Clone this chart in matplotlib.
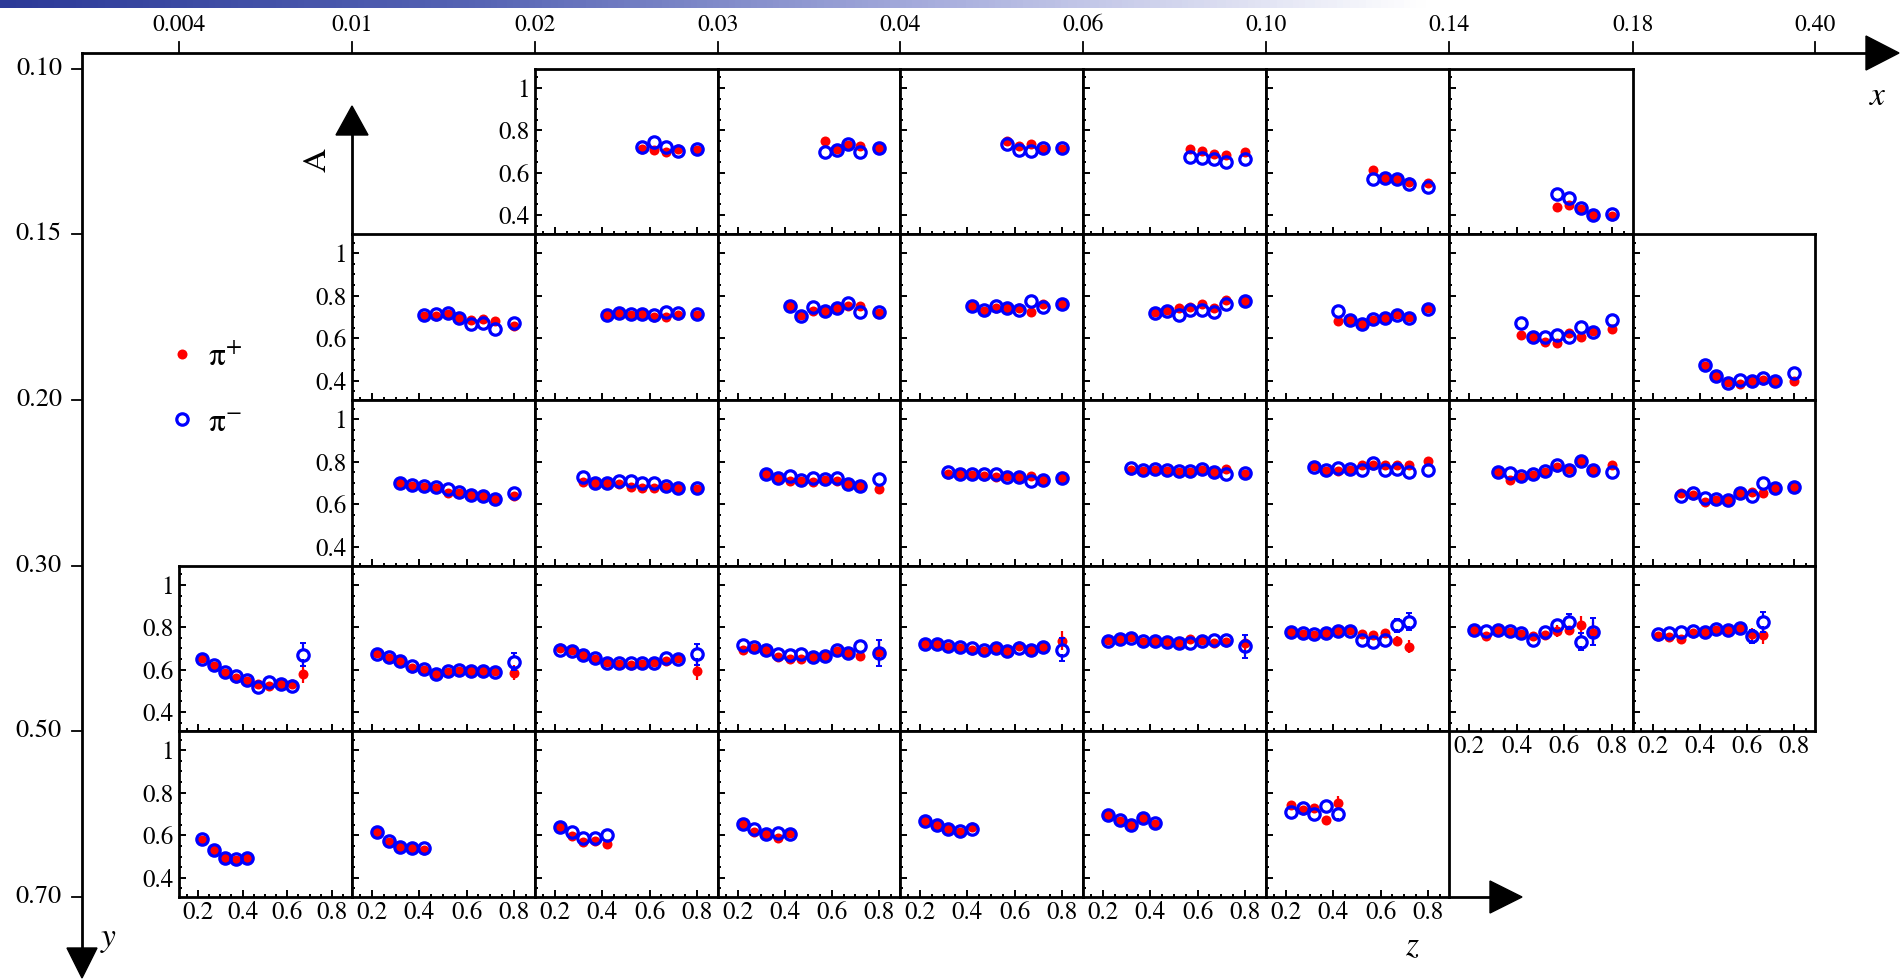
import numpy as np
import matplotlib
matplotlib.use('Agg')
import matplotlib.pyplot as plt
from matplotlib.patches import Polygon
from matplotlib.colors import LinearSegmentedColormap
from matplotlib.ticker import FixedLocator, MultipleLocator

plt.rcParams['font.family'] = 'STIXGeneral'
plt.rcParams['mathtext.fontset'] = 'stix'

W, H = 1901, 980

## bin edges written on the outer x and y axes
x_edge_labels = ['0.004', '0.01', '0.02', '0.03', '0.04', '0.06', '0.10', '0.14', '0.18', '0.40']
y_edge_labels = ['0.10', '0.15', '0.20', '0.30', '0.50', '0.70']

## z points used in the panels
z_r1 = [0.57, 0.62, 0.67, 0.72, 0.80]
z_r2 = [0.42, 0.47, 0.52, 0.57, 0.62, 0.67, 0.72, 0.80]
z_r3 = [0.32, 0.37, 0.42, 0.47, 0.52, 0.57, 0.62, 0.67, 0.72, 0.80]
z_12 = [0.22, 0.27, 0.32, 0.37, 0.42, 0.47, 0.52, 0.57, 0.62, 0.67, 0.72, 0.80]
z_11 = [0.22, 0.27, 0.32, 0.37, 0.42, 0.47, 0.52, 0.57, 0.62, 0.67, 0.72]
z_10 = [0.22, 0.27, 0.32, 0.37, 0.42, 0.47, 0.52, 0.57, 0.62, 0.67]
z_r5 = [0.22, 0.27, 0.32, 0.37, 0.42]

## y bin 1 (0.10-0.15)
pip_y1_x3 = [0.714, 0.706, 0.698, 0.714, 0.708]
pim_y1_x3 = [0.722, 0.746, 0.722, 0.703, 0.711]
pip_y1_x4 = [0.748, 0.711, 0.730, 0.727, 0.717]
pim_y1_x4 = [0.698, 0.708, 0.735, 0.698, 0.716]
pip_y1_x5 = [0.751, 0.727, 0.735, 0.714, 0.714]
pim_y1_x5 = [0.735, 0.706, 0.703, 0.716, 0.717]
pip_y1_x6 = [0.714, 0.703, 0.687, 0.683, 0.698]
pim_y1_x6 = [0.676, 0.671, 0.663, 0.652, 0.663]
pip_y1_x7 = [0.613, 0.576, 0.568, 0.557, 0.552]
pim_y1_x7 = [0.568, 0.576, 0.571, 0.544, 0.532]
pip_y1_x8 = [0.438, 0.446, 0.430, 0.398, 0.394]
pim_y1_x8 = [0.497, 0.478, 0.433, 0.398, 0.406]

## y bin 2 (0.15-0.20)
pip_y2_x2 = [0.706, 0.703, 0.716, 0.695, 0.687, 0.692, 0.679, 0.660]
pim_y2_x2 = [0.708, 0.714, 0.719, 0.695, 0.668, 0.671, 0.643, 0.671]
pip_y2_x3 = [0.708, 0.717, 0.711, 0.714, 0.702, 0.698, 0.711, 0.711]
pim_y2_x3 = [0.711, 0.721, 0.714, 0.714, 0.711, 0.724, 0.717, 0.714]
pip_y2_x4 = [0.751, 0.708, 0.730, 0.730, 0.743, 0.751, 0.751, 0.719]
pim_y2_x4 = [0.754, 0.703, 0.746, 0.730, 0.740, 0.767, 0.724, 0.724]
pip_y2_x5 = [0.751, 0.730, 0.740, 0.743, 0.740, 0.724, 0.762, 0.759]
pim_y2_x5 = [0.751, 0.735, 0.751, 0.743, 0.735, 0.775, 0.746, 0.759]
pip_y2_x6 = [0.724, 0.735, 0.743, 0.746, 0.759, 0.743, 0.778, 0.775]
pim_y2_x6 = [0.719, 0.727, 0.711, 0.735, 0.735, 0.724, 0.763, 0.775]
pip_y2_x7 = [0.683, 0.687, 0.668, 0.684, 0.695, 0.714, 0.698, 0.743]
pim_y2_x7 = [0.727, 0.687, 0.668, 0.692, 0.695, 0.708, 0.695, 0.738]
pip_y2_x8 = [0.616, 0.608, 0.581, 0.576, 0.627, 0.605, 0.635, 0.643]
pim_y2_x8 = [0.671, 0.608, 0.605, 0.616, 0.608, 0.652, 0.629, 0.684]
pip_y2_x9 = [0.468, 0.422, 0.394, 0.383, 0.397, 0.405, 0.398, 0.398]
pim_y2_x9 = [0.473, 0.425, 0.390, 0.406, 0.397, 0.414, 0.397, 0.438]

## y bin 3 (0.20-0.30)
pip_y3_x2 = [0.698, 0.687, 0.683, 0.675, 0.651, 0.654, 0.643, 0.640, 0.627, 0.638]
pim_y3_x2 = [0.698, 0.690, 0.686, 0.679, 0.671, 0.659, 0.643, 0.640, 0.627, 0.651]
pip_y3_x3 = [0.706, 0.698, 0.698, 0.694, 0.683, 0.678, 0.675, 0.679, 0.675, 0.671]
pim_y3_x3 = [0.730, 0.698, 0.698, 0.710, 0.710, 0.698, 0.702, 0.687, 0.678, 0.675]
pip_y3_x4 = [0.743, 0.722, 0.710, 0.710, 0.706, 0.714, 0.710, 0.694, 0.687, 0.670]
pim_y3_x4 = [0.743, 0.725, 0.733, 0.714, 0.725, 0.719, 0.722, 0.694, 0.687, 0.717]
pip_y3_x5 = [0.743, 0.741, 0.738, 0.733, 0.730, 0.733, 0.727, 0.735, 0.714, 0.722]
pim_y3_x5 = [0.751, 0.741, 0.741, 0.741, 0.741, 0.730, 0.730, 0.710, 0.714, 0.725]
pip_y3_x6 = [0.762, 0.757, 0.762, 0.757, 0.754, 0.754, 0.762, 0.751, 0.765, 0.743]
pim_y3_x6 = [0.770, 0.759, 0.765, 0.762, 0.757, 0.757, 0.767, 0.751, 0.743, 0.746]
pip_y3_x7 = [0.778, 0.757, 0.757, 0.762, 0.786, 0.783, 0.786, 0.786, 0.783, 0.802]
pim_y3_x7 = [0.773, 0.762, 0.770, 0.767, 0.762, 0.794, 0.762, 0.767, 0.751, 0.759]
pip_y3_x8 = [0.751, 0.714, 0.730, 0.738, 0.754, 0.773, 0.767, 0.802, 0.762, 0.786]
pim_y3_x8 = [0.754, 0.746, 0.733, 0.741, 0.757, 0.783, 0.759, 0.805, 0.762, 0.754]
pip_y3_x9 = [0.651, 0.643, 0.611, 0.619, 0.619, 0.651, 0.659, 0.651, 0.675, 0.683]
pim_y3_x9 = [0.640, 0.651, 0.630, 0.624, 0.619, 0.651, 0.640, 0.698, 0.675, 0.683]

## y bin 4 (0.30-0.50), with the visible error bars
pip_y4_x1 = [0.657, 0.616, 0.586, 0.562, 0.547, 0.531, 0.521, 0.534, 0.531, 0.581]
pim_y4_x1 = [0.652, 0.621, 0.589, 0.570, 0.550, 0.518, 0.542, 0.534, 0.523, 0.671]
epip_y4_x1 = [0.008, 0.008, 0.008, 0.008, 0.008, 0.009, 0.01, 0.01, 0.012, 0.046]
epim_y4_x1 = [0.008, 0.008, 0.008, 0.008, 0.008, 0.009, 0.01, 0.01, 0.012, 0.054]
pip_y4_x2 = [0.679, 0.657, 0.641, 0.610, 0.597, 0.581, 0.589, 0.594, 0.592, 0.592, 0.592, 0.585]
pim_y4_x2 = [0.676, 0.660, 0.641, 0.616, 0.602, 0.581, 0.594, 0.597, 0.594, 0.594, 0.589, 0.637]
epip_y4_x2 = [0.008] * 11 + [0.035]
epim_y4_x2 = [0.008] * 11 + [0.040]
pip_y4_x3 = [0.700, 0.692, 0.668, 0.652, 0.637, 0.626, 0.621, 0.629, 0.637, 0.642, 0.657, 0.594]
pim_y4_x3 = [0.695, 0.689, 0.668, 0.656, 0.633, 0.633, 0.632, 0.633, 0.633, 0.657, 0.649, 0.673]
epip_y4_x3 = [0.008] * 10 + [0.012, 0.045]
epim_y4_x3 = [0.008] * 10 + [0.012, 0.050]
pip_y4_x4 = [0.695, 0.700, 0.692, 0.660, 0.652, 0.648, 0.660, 0.665, 0.689, 0.681, 0.665, 0.684]
pim_y4_x4 = [0.716, 0.708, 0.692, 0.676, 0.668, 0.676, 0.660, 0.665, 0.692, 0.679, 0.711, 0.679]
epip_y4_x4 = [0.008] * 10 + [0.014, 0.050]
epim_y4_x4 = [0.008] * 10 + [0.014, 0.060]
pip_y4_x5 = [0.723, 0.723, 0.708, 0.700, 0.695, 0.689, 0.700, 0.689, 0.711, 0.692, 0.705, 0.736]
pim_y4_x5 = [0.720, 0.723, 0.711, 0.705, 0.700, 0.692, 0.700, 0.689, 0.700, 0.695, 0.705, 0.695]
epip_y4_x5 = [0.008] * 11 + [0.045]
epim_y4_x5 = [0.008] * 11 + [0.055]
pip_y4_x6 = [0.739, 0.747, 0.752, 0.731, 0.735, 0.731, 0.727, 0.744, 0.739, 0.724, 0.731, 0.724]
pim_y4_x6 = [0.736, 0.744, 0.750, 0.735, 0.735, 0.731, 0.724, 0.724, 0.736, 0.739, 0.739, 0.711]
epip_y4_x6 = [0.008] * 11 + [0.045]
epim_y4_x6 = [0.008] * 11 + [0.055]
pip_y4_x7 = [0.779, 0.768, 0.763, 0.771, 0.782, 0.787, 0.768, 0.763, 0.774, 0.735, 0.708]
pim_y4_x7 = [0.779, 0.771, 0.768, 0.771, 0.782, 0.782, 0.739, 0.731, 0.739, 0.810, 0.826]
epip_y4_x7 = [0.008] * 9 + [0.025, 0.030]
epim_y4_x7 = [0.008] * 9 + [0.030, 0.040]
pip_y4_x8 = [0.787, 0.758, 0.787, 0.779, 0.768, 0.758, 0.763, 0.782, 0.787, 0.810, 0.771]
pim_y4_x8 = [0.787, 0.782, 0.787, 0.782, 0.771, 0.739, 0.776, 0.810, 0.826, 0.731, 0.779]
epip_y4_x8 = [0.008] * 7 + [0.030, 0.015, 0.045, 0.055]
epim_y4_x8 = [0.008] * 7 + [0.015, 0.035, 0.040, 0.063]
pip_y4_x9 = [0.758, 0.755, 0.747, 0.774, 0.779, 0.787, 0.787, 0.798, 0.768, 0.763]
pim_y4_x9 = [0.768, 0.774, 0.779, 0.784, 0.779, 0.790, 0.787, 0.798, 0.758, 0.826]
epip_y4_x9 = [0.008] * 8 + [0.030, 0.040]
epim_y4_x9 = [0.008] * 8 + [0.030, 0.048]

## y bin 5 (0.50-0.70)
pip_y5_x1 = [0.577, 0.529, 0.495, 0.484, 0.495]
pim_y5_x1 = [0.581, 0.532, 0.495, 0.489, 0.495]
pip_y5_x2 = [0.616, 0.568, 0.545, 0.540, 0.532]
pim_y5_x2 = [0.616, 0.573, 0.545, 0.540, 0.540]
pip_y5_x3 = [0.637, 0.597, 0.568, 0.573, 0.561]
pim_y5_x3 = [0.640, 0.616, 0.589, 0.589, 0.600]
pip_y5_x4 = [0.653, 0.616, 0.605, 0.589, 0.610]
pim_y5_x4 = [0.653, 0.629, 0.605, 0.613, 0.605]
pip_y5_x5 = [0.669, 0.648, 0.629, 0.616, 0.637]
pim_y5_x5 = [0.669, 0.648, 0.629, 0.621, 0.629]
pip_y5_x6 = [0.694, 0.667, 0.648, 0.683, 0.654]
pim_y5_x6 = [0.694, 0.672, 0.648, 0.680, 0.659]
pip_y5_x7 = [0.742, 0.720, 0.726, 0.672, 0.752]
pim_y5_x7 = [0.710, 0.726, 0.699, 0.739, 0.699]
epip_y5_x7 = [0.008, 0.008, 0.008, 0.012, 0.032]
epim_y5_x7 = [0.008, 0.008, 0.008, 0.012, 0.026]

# (y bin, x bin, z, pi+, pi-, err pi+, err pi-) -- bins counted from 0
panels = [
    (0, 2, z_r1, pip_y1_x3, pim_y1_x3, None, None),
    (0, 3, z_r1, pip_y1_x4, pim_y1_x4, None, None),
    (0, 4, z_r1, pip_y1_x5, pim_y1_x5, None, None),
    (0, 5, z_r1, pip_y1_x6, pim_y1_x6, None, None),
    (0, 6, z_r1, pip_y1_x7, pim_y1_x7, None, None),
    (0, 7, z_r1, pip_y1_x8, pim_y1_x8, None, None),
    (1, 1, z_r2, pip_y2_x2, pim_y2_x2, None, None),
    (1, 2, z_r2, pip_y2_x3, pim_y2_x3, None, None),
    (1, 3, z_r2, pip_y2_x4, pim_y2_x4, None, None),
    (1, 4, z_r2, pip_y2_x5, pim_y2_x5, None, None),
    (1, 5, z_r2, pip_y2_x6, pim_y2_x6, None, None),
    (1, 6, z_r2, pip_y2_x7, pim_y2_x7, None, None),
    (1, 7, z_r2, pip_y2_x8, pim_y2_x8, None, None),
    (1, 8, z_r2, pip_y2_x9, pim_y2_x9, None, None),
    (2, 1, z_r3, pip_y3_x2, pim_y3_x2, None, None),
    (2, 2, z_r3, pip_y3_x3, pim_y3_x3, None, None),
    (2, 3, z_r3, pip_y3_x4, pim_y3_x4, None, None),
    (2, 4, z_r3, pip_y3_x5, pim_y3_x5, None, None),
    (2, 5, z_r3, pip_y3_x6, pim_y3_x6, None, None),
    (2, 6, z_r3, pip_y3_x7, pim_y3_x7, None, None),
    (2, 7, z_r3, pip_y3_x8, pim_y3_x8, None, None),
    (2, 8, z_r3, pip_y3_x9, pim_y3_x9, None, None),
    (3, 0, z_10, pip_y4_x1, pim_y4_x1, epip_y4_x1, epim_y4_x1),
    (3, 1, z_12, pip_y4_x2, pim_y4_x2, epip_y4_x2, epim_y4_x2),
    (3, 2, z_12, pip_y4_x3, pim_y4_x3, epip_y4_x3, epim_y4_x3),
    (3, 3, z_12, pip_y4_x4, pim_y4_x4, epip_y4_x4, epim_y4_x4),
    (3, 4, z_12, pip_y4_x5, pim_y4_x5, epip_y4_x5, epim_y4_x5),
    (3, 5, z_12, pip_y4_x6, pim_y4_x6, epip_y4_x6, epim_y4_x6),
    (3, 6, z_11, pip_y4_x7, pim_y4_x7, epip_y4_x7, epim_y4_x7),
    (3, 7, z_11, pip_y4_x8, pim_y4_x8, epip_y4_x8, epim_y4_x8),
    (3, 8, z_10, pip_y4_x9, pim_y4_x9, epip_y4_x9, epim_y4_x9),
    (4, 0, z_r5, pip_y5_x1, pim_y5_x1, None, None),
    (4, 1, z_r5, pip_y5_x2, pim_y5_x2, None, None),
    (4, 2, z_r5, pip_y5_x3, pim_y5_x3, None, None),
    (4, 3, z_r5, pip_y5_x4, pim_y5_x4, None, None),
    (4, 4, z_r5, pip_y5_x5, pim_y5_x5, None, None),
    (4, 5, z_r5, pip_y5_x6, pim_y5_x6, None, None),
    (4, 6, z_r5, pip_y5_x7, pim_y5_x7, epip_y5_x7, epim_y5_x7),
]

# pixel layout of the grid
col_px = [179, 352, 535, 718, 900, 1083, 1266, 1449, 1633, 1815]
row_px = [69, 234, 400, 566, 731, 897]
first_col = {0: 2, 1: 1, 2: 1, 3: 0, 4: 0}

RED = '#ff0000'
BLUE = '#0000ff'
YLIM = (0.31, 1.09)
ms_blue, mew_blue = 8.2, 2.3

fig = plt.figure(figsize=(W / 100, H / 100), dpi=100)

# background axes in pixel units for the outer axes and arrows
ax0 = fig.add_axes([0, 0, 1, 1], zorder=0)
grad = np.linspace(0, 1, 600)[None, :]
bar_cmap = LinearSegmentedColormap.from_list('bar', ['#2c3a98', '#5664b4', '#aab0de', '#ffffff', '#ffffff'])
ax0.imshow(grad, extent=[0, W, 8, 0], cmap=bar_cmap, aspect='auto')
ax0.set_xlim(0, W)
ax0.set_ylim(H, 0)
ax0.axis('off')

lw_ax = 2.0
# top x axis
ax0.plot([82, 1870], [53, 53], color='k', lw=lw_ax)
ax0.add_patch(Polygon([(1866, 36), (1866, 70), (1899, 53)], closed=True, color='k'))
for xp, lab in zip(col_px, x_edge_labels):
    ax0.plot([xp, xp], [53, 42], color='k', lw=1.3)
    ax0.text(xp, 36, lab, ha='center', va='bottom', fontsize=17)
ax0.text(1877, 97, 'x', fontsize=24, style='italic', ha='center', va='center')

# left y axis
ax0.plot([82, 82], [53, 955], color='k', lw=lw_ax)
ax0.add_patch(Polygon([(67, 948), (97, 948), (82, 978)], closed=True, color='k'))
for yp, lab in zip(row_px, y_edge_labels):
    ax0.plot([72, 82], [yp, yp], color='k', lw=1.3)
    ax0.text(62, yp, lab, ha='right', va='center', fontsize=19)
ax0.text(108, 938, 'y', fontsize=24, style='italic', ha='center', va='center')

# A arrow
ax0.plot([352, 352], [234, 130], color='k', lw=lw_ax)
ax0.add_patch(Polygon([(336, 135), (368, 135), (352, 106)], closed=True, color='k'))
ax0.text(318, 160, 'A', fontsize=24, rotation=90, ha='center', va='center')

# z arrow
ax0.plot([1449, 1495], [897, 897], color='k', lw=lw_ax)
ax0.add_patch(Polygon([(1490, 881), (1490, 913), (1522, 897)], closed=True, color='k'))
ax0.text(1412, 946, 'z', fontsize=24, style='italic', ha='center', va='center')

leg_handles = None
for r, c, z, pip, pim, epip, epim in panels:
    x0, x1 = col_px[c], col_px[c + 1]
    y0, y1 = row_px[r], row_px[r + 1]
    ax = fig.add_axes([x0 / W, 1 - y1 / H, (x1 - x0) / W, (y1 - y0) / H], zorder=2)
    if epip is None:
        epip = [0.008] * len(z)
    if epim is None:
        epim = [0.008] * len(z)
    hp = ax.errorbar(z, pip, yerr=epip, fmt='o', color=RED, ms=7.2, mew=0,
                     elinewidth=1.6, capsize=2, capthick=1.4, zorder=3)
    # open circles: error bar only outside the ring
    rad = (ms_blue - mew_blue) / 2 * 100 / 72 * (YLIM[1] - YLIM[0]) / (y1 - y0)
    for zi, yi, ei in zip(z, pim, epim):
        if ei > rad:
            ax.vlines([zi, zi], [yi + rad, yi - ei], [yi + ei, yi - rad], color=BLUE, lw=1.6, zorder=4)
            ax.plot([zi, zi], [yi - ei, yi + ei], ls='none', marker='_', ms=4.5, mew=1.4,
                    color=BLUE, zorder=4)
    hm, = ax.plot(z, pim, ls='none', marker='o', mfc='none', mec=BLUE, ms=ms_blue,
                  mew=mew_blue, zorder=5)
    if leg_handles is None:
        leg_handles = [hp[0], hm]

    ax.set_xlim(0.115, 0.89)
    ax.set_ylim(*YLIM)
    for s in ax.spines.values():
        s.set_linewidth(lw_ax)
    ax.xaxis.set_major_locator(FixedLocator([0.2, 0.4, 0.6, 0.8]))
    ax.xaxis.set_minor_locator(MultipleLocator(0.05))
    ax.yaxis.set_major_locator(FixedLocator([0.4, 0.6, 0.8, 1.0]))
    ax.yaxis.set_minor_locator(MultipleLocator(0.05))
    ax.tick_params(which='both', direction='in', top=False, right=False, width=1.4)
    ax.tick_params(which='major', length=5)
    ax.tick_params(which='minor', length=2.5)

    if c == first_col[r]:
        ax.set_yticklabels(['0.4', '0.6', '0.8', '1'])
        ax.tick_params(axis='y', labelsize=18, pad=4)
    else:
        ax.tick_params(axis='y', labelleft=False)
    if r == 4 or (r == 3 and c >= 7):
        ax.set_xticklabels(['0.2', '0.4', '0.6', '0.8'])
        ax.tick_params(axis='x', labelsize=18, pad=3)
    else:
        ax.tick_params(axis='x', labelbottom=False)

fig.legend(leg_handles, ['π$^{+}$', 'π$^{-}$'], loc='center left',
           bbox_to_anchor=(165 / W, 1 - 390 / H), frameon=False, fontsize=24,
           handlelength=1.0, handletextpad=0.3, borderpad=0, borderaxespad=0,
           labelspacing=1.05, numpoints=1)

fig.savefig('out.png', dpi=100)
